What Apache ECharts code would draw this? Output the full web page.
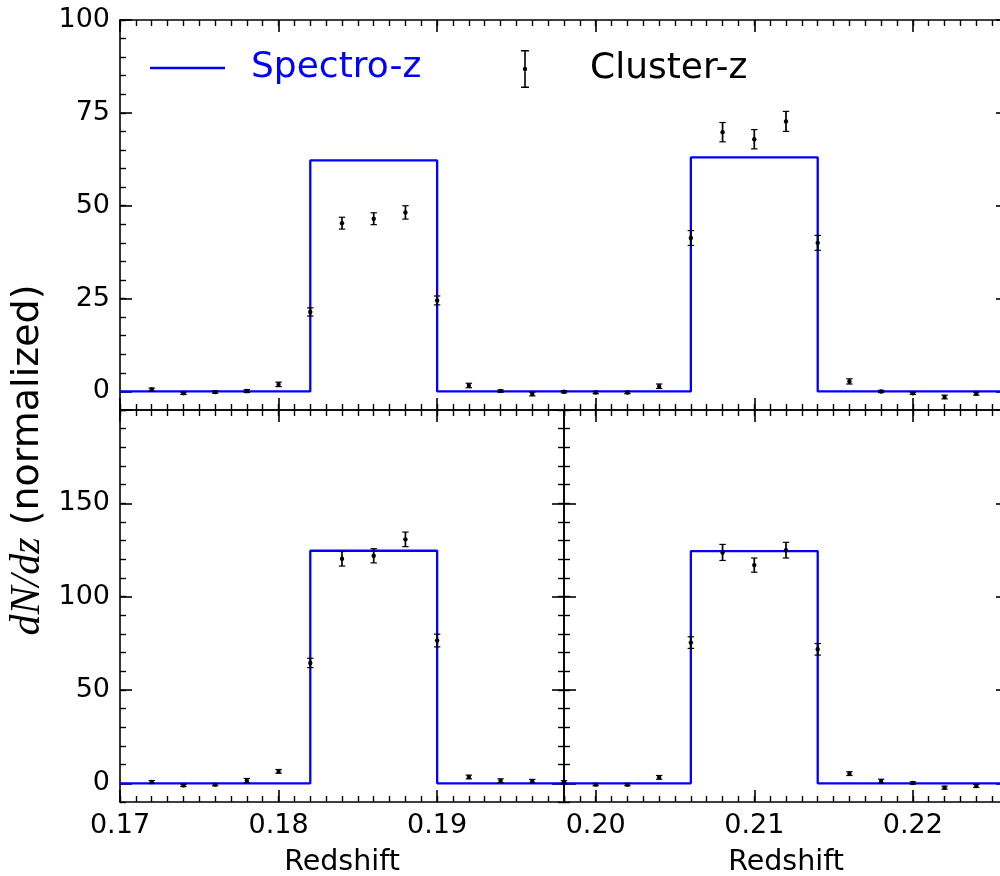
<!DOCTYPE html>
<html>
<head>
<meta charset="utf-8">
<script src="https://cdn.jsdelivr.net/npm/echarts@6/dist/echarts.min.js"></script>
<style>
html, body { margin: 0; padding: 0; background: #fff; }
#chart { width: 1000px; height: 876px; }
</style>
</head>
<body>
<div id="chart"></div>
<script>
// redshift of every cluster-z point (same in all panels)
var redshift = [0.172, 0.174, 0.176, 0.178, 0.180, 0.182, 0.184, 0.186, 0.188, 0.190,
                0.192, 0.194, 0.196, 0.198, 0.200, 0.202, 0.204, 0.206, 0.208, 0.210,
                0.212, 0.214, 0.216, 0.218, 0.220, 0.222, 0.224];
// top panel
var clusterTop    = [0.5, -0.5, -0.2, 0.1, 1.9, 21.4, 45.3, 46.5, 48.2, 24.5,
                     1.6, 0.1, -0.7, -0.1, -0.3, -0.3, 1.4, 41.3, 69.8, 67.9,
                     72.7, 40.0, 2.7, 0.0, -0.5, -1.5, -0.6];
var clusterTopErr = [0.4, 0.3, 0.3, 0.4, 0.6, 1.1, 1.6, 1.6, 1.8, 1.2,
                     0.6, 0.3, 0.5, 0.3, 0.3, 0.3, 0.6, 2.0, 2.6, 2.6,
                     2.7, 2.0, 0.7, 0.3, 0.3, 0.5, 0.4];
// bottom panels
var clusterBot    = [0.7, -1.1, -0.7, 1.4, 6.4, 64.5, 120.3, 121.9, 130.7, 76.5,
                     3.4, 1.4, 1.1, 0.6, -0.7, -0.7, 3.2, 75.4, 123.7, 116.9,
                     124.9, 71.8, 5.2, 1.1, 0.2, -2.3, -1.4];
var clusterBotErr = [0.8, 0.6, 0.6, 1.2, 1.0, 2.5, 3.9, 3.8, 3.9, 3.4,
                     1.0, 1.0, 1.0, 0.8, 0.6, 0.6, 1.0, 3.1, 4.3, 3.8,
                     4.2, 3.1, 1.0, 1.1, 0.6, 0.8, 0.8];
// spectro-z histogram: bin edges and heights
var specEdges = [0.170, 0.182, 0.190, 0.206, 0.214, 0.226];
var specTop   = [0, 62.2, 0, 63.0, 0];
var specBot   = [0, 124.6, 0, 124.4, 0];
// tick labels
var xTicks      = [0.17, 0.18, 0.19, 0.20, 0.21, 0.22];
var xTicksLeft  = [0.17, 0.18, 0.19];
var xTicksRight = [0.20, 0.21, 0.22];
var yTicksTop   = [0, 25, 50, 75, 100];
var yTicksBot   = [0, 50, 100, 150, 200];
var yLabelsBot  = [0, 50, 100, 150];

var ink = '#000';
var blue = '#0000ff';
var font = 'DejaVu Sans';

var chart = echarts.init(document.getElementById('chart'));

var panels = [
    { rect: { left: 120, top: 20, width: 888, height: 390 }, x: [0.17, 0.226], y: [-5, 100], yStep: 5,
      xMajor: xTicks, xLab: [], yMajor: yTicksTop, yLab: yTicksTop, spec: specTop, val: clusterTop, err: clusterTopErr },
    { rect: { left: 120, top: 410, width: 444, height: 392 }, x: [0.17, 0.198], y: [-10, 200], yStep: 10,
      xMajor: xTicksLeft, xLab: xTicksLeft, yMajor: yTicksBot, yLab: yLabelsBot, spec: specBot, val: clusterBot, err: clusterBotErr },
    { rect: { left: 564, top: 410, width: 444, height: 392 }, x: [0.198, 0.226], y: [-10, 200], yStep: 10,
      xMajor: xTicksRight, xLab: xTicksRight, yMajor: yTicksBot, yLab: [], spec: specBot, val: clusterBot, err: clusterBotErr }
];

function minorAxis(g, pos, range, step) {
    return {
        type: 'value', gridIndex: g, position: pos, min: range[0], max: range[1], interval: step,
        axisLine: { show: true, onZero: false, lineStyle: { color: ink, width: 1.6 } },
        axisTick: { show: true, inside: true, length: 6, lineStyle: { color: ink, width: 1.4 } },
        axisLabel: { show: false },
        splitLine: { show: false }
    };
}
function majorAxis(g, pos, range, ticks, labels, fmt) {
    return {
        type: 'value', gridIndex: g, position: pos, min: range[0], max: range[1],
        axisLine: { show: false, onZero: false },
        axisTick: { show: true, inside: true, length: 12, customValues: ticks, lineStyle: { color: ink, width: 1.6 } },
        axisLabel: { show: labels.length > 0, customValues: labels, formatter: fmt,
                     color: ink, fontSize: 27, fontFamily: font, margin: 10 },
        splitLine: { show: false }
    };
}
function fmtZ(v) { return v.toFixed(2); }
function fmtN(v) { return String(Math.round(v)); }

function drawErr(params, api) {
    var z = api.value(0), v = api.value(1), e = api.value(2);
    var c = api.coord([z, v]);
    var hi = api.coord([z, v + e])[1];
    var lo = api.coord([z, v - e])[1];
    var st = { stroke: ink, lineWidth: 1.7 };
    var cap = { stroke: ink, lineWidth: 1.2 };
    return {
        type: 'group',
        children: [
            { type: 'line', shape: { x1: c[0], y1: hi, x2: c[0], y2: lo }, style: st },
            { type: 'line', shape: { x1: c[0] - 3.2, y1: hi, x2: c[0] + 3.2, y2: hi }, style: cap },
            { type: 'line', shape: { x1: c[0] - 3.2, y1: lo, x2: c[0] + 3.2, y2: lo }, style: cap },
            { type: 'circle', shape: { cx: c[0], cy: c[1], r: 2.2 }, style: { fill: ink } }
        ]
    };
}

var grid = [], xAxis = [], yAxis = [], series = [];
panels.forEach(function (p) {
    var gMin = grid.length;
    grid.push(Object.assign({ outerBoundsMode: 'none', containLabel: false }, p.rect));
    var gMaj = grid.length;
    grid.push(Object.assign({ outerBoundsMode: 'none', containLabel: false }, p.rect));

    xAxis.push(minorAxis(gMin, 'bottom', p.x, 0.001));
    xAxis.push(minorAxis(gMin, 'top', p.x, 0.001));
    yAxis.push(minorAxis(gMin, 'left', p.y, p.yStep));
    yAxis.push(minorAxis(gMin, 'right', p.y, p.yStep));

    var xi = xAxis.length;
    var bx = majorAxis(gMaj, 'bottom', p.x, p.xMajor, p.xLab, fmtZ);
    if (p.xLab.length) {
        bx.name = 'Redshift';
        bx.nameLocation = 'middle';
        bx.nameGap = 46;
        bx.nameTextStyle = { color: ink, fontSize: 28.5, fontFamily: font };
    }
    xAxis.push(bx);
    xAxis.push(majorAxis(gMaj, 'top', p.x, p.xMajor, [], fmtZ));
    var yi = yAxis.length;
    yAxis.push(majorAxis(gMaj, 'left', p.y, p.yMajor, p.yLab, fmtN));
    yAxis.push(majorAxis(gMaj, 'right', p.y, p.yMajor, [], fmtN));

    series.push({
        type: 'line', name: 'Spectro-z', xAxisIndex: xi, yAxisIndex: yi,
        step: 'end', symbol: 'none', clip: true, z: 3,
        data: specEdges.map(function (e, k) { return [e, p.spec[Math.min(k, p.spec.length - 1)]]; }),
        lineStyle: { color: blue, width: 2.3 }, itemStyle: { color: blue }
    });
    series.push({
        type: 'custom', name: 'Cluster-z', xAxisIndex: xi, yAxisIndex: yi,
        clip: true, z: 4, renderItem: drawErr,
        encode: { x: 0, y: 1 },
        itemStyle: { color: ink },
        data: redshift.map(function (z, k) { return [z, p.val[k], p.err[k]]; })
    });
});

var lineIcon = 'path://M0,0H75V2.3H0Z';
var errIcon = 'path://M0,0H8V1.4H4.8V36.6H8V38H0V36.6H3.2V1.4H0Z' +
              'M1.8,19A2.2,2.2 0 1,1 6.2,19A2.2,2.2 0 1,1 1.8,19Z';

var option = {
    animation: false,
    backgroundColor: '#fff',
    grid: grid,
    xAxis: xAxis,
    yAxis: yAxis,
    legend: [
        { data: [{ name: 'Spectro-z', icon: lineIcon }], left: 150, top: 50, padding: 0,
          itemWidth: 75, itemHeight: 38, selectedMode: false,
          textStyle: { color: blue, fontSize: 36, fontFamily: font, padding: [0, 0, 0, 21] } },
        { data: [{ name: 'Cluster-z', icon: errIcon }], left: 521, top: 50, padding: 0,
          itemWidth: 8, itemHeight: 38, selectedMode: false,
          textStyle: { color: ink, fontSize: 36, fontFamily: font, padding: [0, 0, 0, 56] } }
    ],
    graphic: [{
        type: 'text', x: 28, y: 460, rotation: Math.PI / 2,
        style: {
            text: '{m|dN/dz} (normalized)',
            rich: { m: { fontFamily: 'Liberation Serif', fontStyle: 'italic', fontSize: 42, fill: ink } },
            fontFamily: font, fontSize: 38, fill: ink,
            align: 'center', verticalAlign: 'middle'
        }
    }],
    series: series
};
chart.setOption(option);
</script>
</body>
</html>
